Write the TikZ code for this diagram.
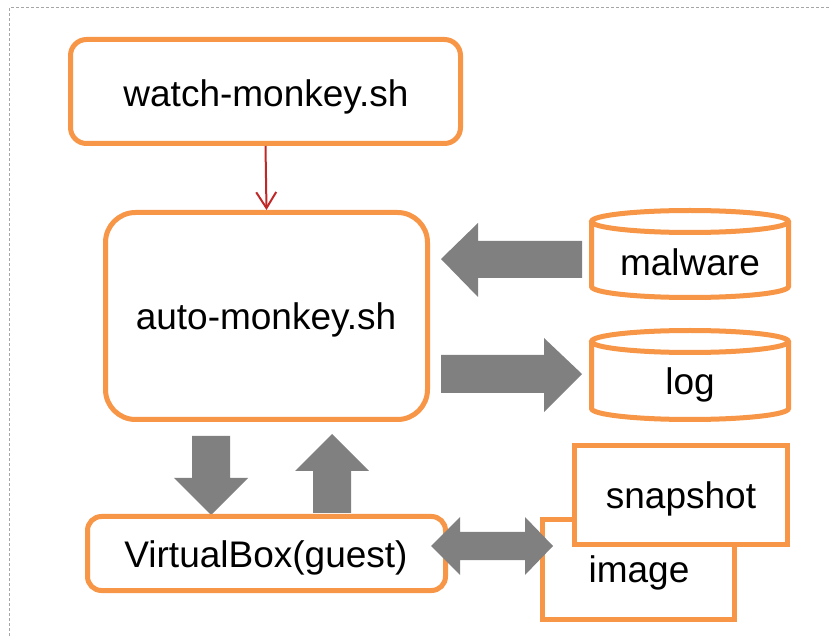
\documentclass[tikz,border=0pt]{standalone}
\usepackage{fontspec}
\setmainfont{Liberation Sans}
\usetikzlibrary{arrows.meta}
\definecolor{org}{RGB}{247,150,70}
\definecolor{blkgrey}{RGB}{128,128,128}
\definecolor{redarr}{RGB}{192,40,40}
\tikzset{
  box/.style={draw=org, line width=5pt, fill=white, inner sep=0pt},
  blk/.style={fill=blkgrey, draw=none},
  lbl/.style={font=\fontsize{37}{44}\selectfont, inner sep=0pt, anchor=base},
  cyl/.style={draw=org, line width=5pt, fill=white},
  frame/.style={draw=black!35, dash pattern=on 3pt off 2pt, line width=1pt},
}
\begin{document}
\begin{tikzpicture}[x=1pt,y=-1pt]
\useasboundingbox (0,0) rectangle (831,636);
\draw[frame] (9,636) -- (9,8) -- (831,8);

% boxes
\node[box, rounded corners=16pt, minimum width=390pt, minimum height=104pt] (watch) at (265.5,91.5) {};
\node[lbl] (watchT) at (266,107) {watch-monkey.sh};

\node[box, rounded corners=30pt, minimum width=322pt, minimum height=207pt] (auto) at (266.5,316) {};
\node[lbl] (autoT) at (266,330) {auto-monkey.sh};

% red connector
\draw[redarr, line width=2pt, -{Straight Barb[length=16pt,width=20pt,line width=2pt]}] (watch.south) -- (auto.north);

% malware cylinder
\draw[cyl] (591.5,221.5) -- (591.5,286.5) arc[start angle=180,end angle=360,x radius=98.5pt,y radius=11pt] -- (788.5,221.5);
\draw[cyl] (690,221.5) ellipse[x radius=98.5pt, y radius=11pt];
\node[lbl] (malware) at (690,276) {malware};

% log cylinder
\draw[cyl] (591.5,341.5) -- (591.5,408.5) arc[start angle=180,end angle=360,x radius=98.5pt,y radius=11pt] -- (788.5,341.5);
\draw[cyl] (690,341.5) ellipse[x radius=98.5pt, y radius=11pt];
\node[lbl] (log) at (690,395) {log};

% block arrows auto <-> cylinders
\fill[blk] (582,241) -- (478,241) -- (478,223) -- (441,259) -- (478,297) -- (478,278) -- (582,278) -- cycle;
\fill[blk] (441,355) -- (544,355) -- (544,338) -- (582,374) -- (544,412) -- (544,393) -- (441,393) -- cycle;

% vertical block arrows
\fill[blk] (192,436) -- (230,436) -- (230,478) -- (248,478) -- (211,515) -- (174,478) -- (192,478) -- cycle;
\fill[blk] (313,513) -- (313,471) -- (295,471) -- (332,434) -- (369,471) -- (351,471) -- (351,513) -- cycle;

% VirtualBox
\node[box, rounded corners=14pt, minimum width=358pt, minimum height=74pt] (vbox) at (266.5,553.5) {};
\node[lbl] (vboxT) at (266,567) {VirtualBox(guest)};

% image / snapshot
\draw[box] (542.5,519.5) rectangle (734.5,619.5);
\node[lbl] (image) at (639,583) {image};
\draw[box] (574.5,445.5) rectangle (787.5,544.5);
\node[lbl] (snapshot) at (681,509) {snapshot};

% double block arrow
\fill[blk] (431,546) -- (460,517) -- (460,532) -- (525,532) -- (525,517) -- (553,546) -- (525,575) -- (525,560) -- (460,560) -- (460,575) -- cycle;
\end{tikzpicture}
\end{document}
